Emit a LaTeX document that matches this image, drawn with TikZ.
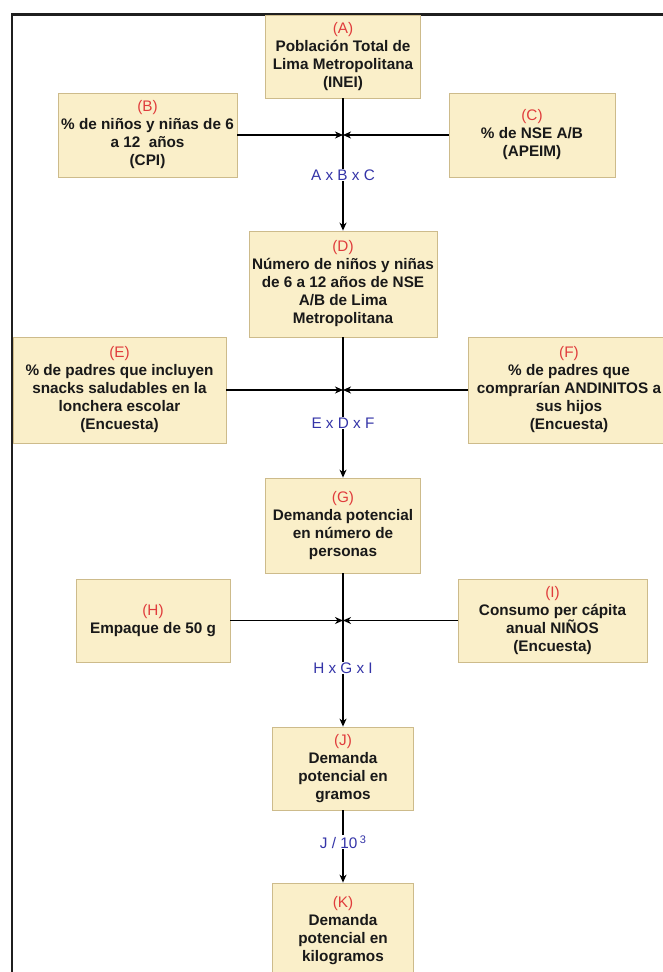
\documentclass[tikz,border=0pt]{standalone}
\usepackage{fontspec}
\setmainfont{Liberation Sans}
\usetikzlibrary{arrows.meta}
\definecolor{boxfill}{HTML}{FAEFC9}
\definecolor{boxdraw}{HTML}{CDBB8B}
\definecolor{lblred}{HTML}{E03C3C}
\definecolor{lblblue}{HTML}{3434A8}
\newcommand{\tg}[1]{{\color{lblred}\mdseries #1}}
\begin{document}
\begin{tikzpicture}[x=1pt,y=-1pt,
  box/.style={draw=boxdraw, fill=boxfill, line width=0.8pt, align=center, inner sep=0pt,
    font=\fontsize{15.3}{18}\selectfont\bfseries, text=black!90},
  arr/.style={draw=black, line width=1.2pt, -{Stealth[length=8pt,width=7pt,inset=2.5pt]}},
  lbl/.style={fill=white, inner sep=1pt, text=lblblue, font=\fontsize{15.3}{18}\selectfont}
]
\useasboundingbox (0,0) rectangle (662,972);
\fill[white] (0,0) rectangle (662,972);
% frame
\draw[line width=2.2pt, black!88] (12,985) -- (12,14.5) -- (680,14.5);

% nodes
\node[box, minimum width=155pt, minimum height=83pt] (A) at (343,56.5)
  {\tg{(A)}\\Población Total de\\Lima Metropolitana\\(INEI)};
\node[box, minimum width=179pt, minimum height=84pt] (B) at (147.5,135)
  {\tg{(B)}\\\% de niños y niñas de 6\\a 12\ \ años\\(CPI)};
\node[box, minimum width=166pt, minimum height=84pt] (C) at (532,135)
  {\tg{(C)}\\\% de NSE A/B\\(APEIM)};
\node[box, minimum width=188pt, minimum height=106pt] (D) at (343,284)
  {\tg{(D)}\\Número de niños y niñas\\de 6 a 12 años de NSE\\A/B de Lima\\Metropolitana};
\node[box, minimum width=213pt, minimum height=106pt] (E) at (119.5,390)
  {\tg{(E)}\\\% de padres que incluyen\\snacks saludables en la\\lonchera escolar\\(Encuesta)};
\node[box, minimum width=202pt, minimum height=106pt] (F) at (569,390)
  {\tg{(F)}\\\% de padres que\\comprarían ANDINITOS a\\sus hijos\\(Encuesta)};
\node[box, minimum width=155pt, minimum height=95pt] (G) at (343,525.5)
  {\tg{(G)}\\Demanda potencial\\en número de\\personas};
\node[box, minimum width=154pt, minimum height=83pt] (H) at (153,620.5)
  {\tg{(H)}\\Empaque de 50 g};
\node[box, minimum width=189pt, minimum height=83pt] (I) at (552.5,620.5)
  {\tg{(I)}\\Consumo per cápita\\anual NIÑOS\\(Encuesta)};
\node[box, minimum width=141pt, minimum height=83pt] (J) at (343,768.5)
  {\tg{(J)}\\Demanda\\potencial en\\gramos};
\node[box, minimum width=141pt, minimum height=95pt] (K) at (343,930.5)
  {\tg{(K)}\\Demanda\\potencial en\\kilogramos};

% junction points
\coordinate (m1) at (343,135);
\coordinate (m2) at (343,390);
\coordinate (m3) at (343,620.5);

% connectors
\draw[arr] (A) -- node[lbl, pos=0.58] {A x B x C} (D);
\draw[arr] (B) -- (m1);
\draw[arr] (C) -- (m1);
\draw[arr] (D) -- node[lbl, pos=0.61] {E x D x F} (G);
\draw[arr] (E) -- (m2);
\draw[arr] (F) -- (m2);
\draw[arr] (G) -- node[lbl, pos=0.617] {H x G x I} (J);
\draw[arr] (H) -- (m3);
\draw[arr] (I) -- (m3);
\draw[arr] (J) -- node[lbl, pos=0.44] {J / 10\,\raisebox{0.55ex}{\fontsize{11}{11}\selectfont 3}} (K);
\end{tikzpicture}
\end{document}
